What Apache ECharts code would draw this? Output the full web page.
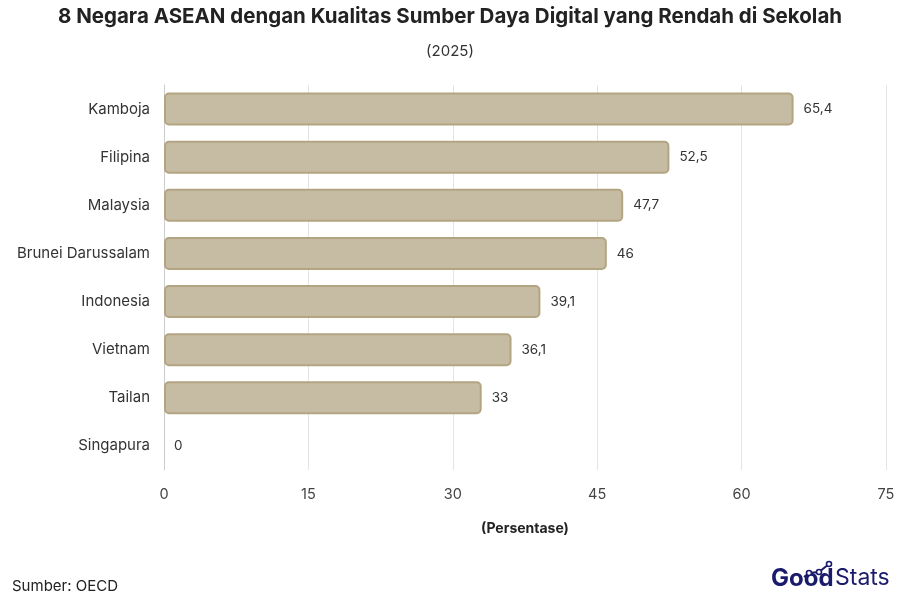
<!DOCTYPE html>
<html><head><meta charset="utf-8">
<script src="https://cdn.jsdelivr.net/npm/echarts@6/dist/echarts.min.js"></script>
<style>html,body{margin:0;padding:0;background:#fff}#c{width:900px;height:600px}</style>
</head><body><div id="c"></div>
<script>
const categories = ["Kamboja","Filipina","Malaysia","Brunei Darussalam","Indonesia","Vietnam","Tailan","Singapura"];
const values = [65.4, 52.5, 47.7, 46, 39.1, 36.1, 33, 0];
const xTicks = [0, 15, 30, 45, 60, 75];

const chart = echarts.init(document.getElementById('c'), null, {renderer:'canvas'});
const font = 'Inter, "Noto Sans", sans-serif';
const logo = '#1b1b6b';
chart.setOption({
  backgroundColor:'#fff',
  animation:false,
  title:[
    {text:'8 Negara ASEAN dengan Kualitas Sumber Daya Digital yang Rendah di Sekolah', left:'center', top:6, padding:0,
     textStyle:{fontFamily:font, fontSize:20.5, fontWeight:'bold', color:'#222'}},
    {text:'(2025)', left:'center', top:44, padding:0, textStyle:{fontFamily:font, fontSize:15, fontWeight:'normal', color:'#333'}},
    {text:'Sumber: OECD', left:12, top:579, padding:0, textStyle:{fontFamily:font, fontSize:15, fontWeight:'normal', color:'#222'}}
  ],
  graphic:[
    {type:'text', left:771, top:567, style:{text:'Good', font:'bold 24px '+font, fill:logo}},
    {type:'text', left:835, top:567, style:{text:'Stats', font:'normal 23px '+font, fill:logo}},
    {type:'polyline', shape:{points:[[804,577],[809,573],[819,572],[829,564]]}, style:{stroke:logo, lineWidth:2, fill:null}},
    {type:'circle', shape:{cx:809, cy:573, r:2.5}, style:{stroke:logo, lineWidth:1.6, fill:'#fff'}},
    {type:'circle', shape:{cx:819, cy:572, r:2.5}, style:{stroke:logo, lineWidth:1.6, fill:'#fff'}},
    {type:'circle', shape:{cx:829, cy:564, r:2.5}, style:{stroke:logo, lineWidth:1.6, fill:'#fff'}}
  ],
  grid:{left:164, right:14, top:85, bottom:130, containLabel:false},
  xAxis:{type:'value', min:0, max:75, interval:15,
    name:'(Persentase)', nameLocation:'middle', nameGap:52,
    nameTextStyle:{fontFamily:font, fontSize:14, fontWeight:'bold', color:'#222'},
    axisLine:{show:false}, axisTick:{show:false},
    axisLabel:{fontFamily:font, fontSize:14.5, color:'#444', margin:17,
      formatter:v=>xTicks.includes(v)?String(v):''},
    splitLine:{show:true, lineStyle:{color:'#e4e4e4', width:1}}
  },
  yAxis:{type:'category', data:categories, inverse:true,
    axisLine:{show:true, lineStyle:{color:'#cccccc'}}, axisTick:{show:false},
    axisLabel:{fontFamily:font, fontSize:15, color:'#333', margin:14}
  },
  series:[{type:'bar', data:values.map(v => v === 0 ? {value:v, itemStyle:{borderWidth:0}} : v), barWidth:33,
    itemStyle:{color:'#c6bca4', borderColor:'#b4a582', borderWidth:2, borderRadius:4},
    label:{show:true, position:'right', distance:10, fontFamily:font, fontSize:13.5, color:'#333',
      formatter:p=>String(p.value).replace('.',',')}
  }]
});
</script></body></html>
